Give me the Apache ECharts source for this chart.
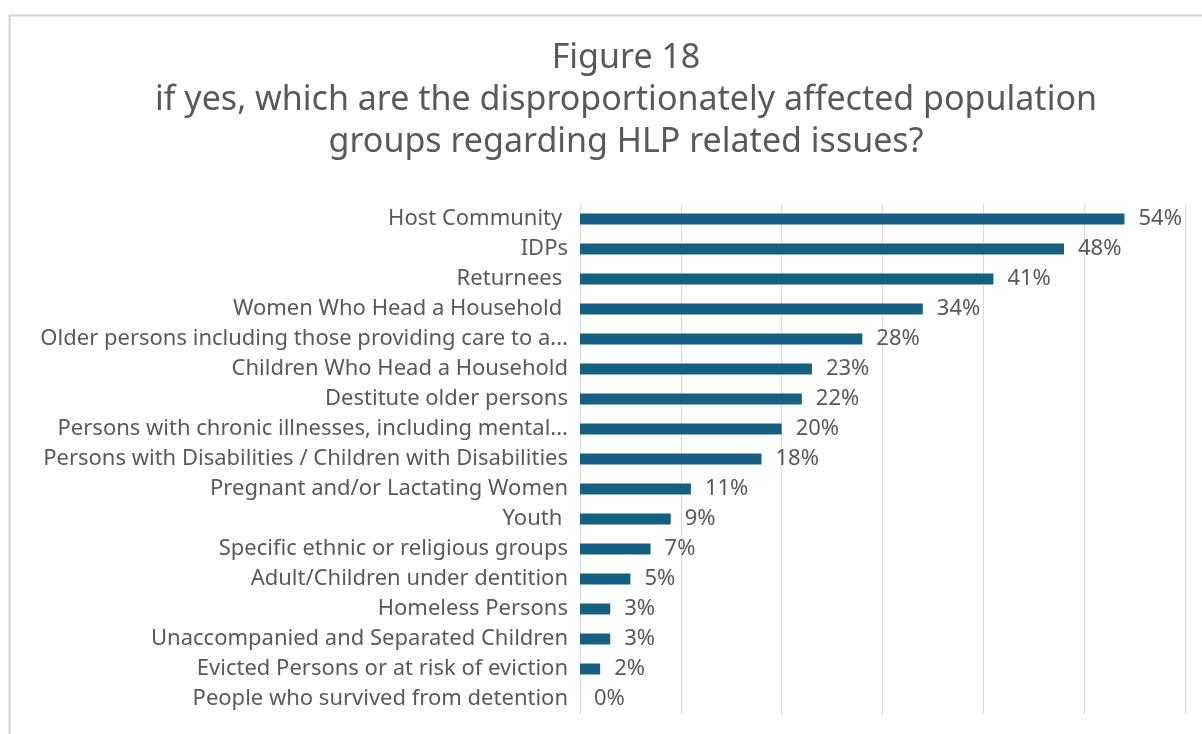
<!DOCTYPE html>
<html>
<head>
<meta charset="utf-8">
<script src="https://cdn.jsdelivr.net/npm/echarts@6/dist/echarts.min.js"></script>
<style>
  html, body { margin: 0; padding: 0; background: #ffffff; }
  #chart { width: 1202px; height: 734px; }
</style>
</head>
<body>
<div id="chart"></div>
<script>
// Population groups, listed top to bottom
const categories = [
  'Host Community ',
  'IDPs',
  'Returnees ',
  'Women Who Head a Household ',
  'Older persons including those providing care to a...',
  'Children Who Head a Household',
  'Destitute older persons',
  'Persons with chronic illnesses, including mental...',
  'Persons with Disabilities / Children with Disabilities',
  'Pregnant and/or Lactating Women',
  'Youth ',
  'Specific ethnic or religious groups',
  'Adult/Children under dentition',
  'Homeless Persons',
  'Unaccompanied and Separated Children',
  'Evicted Persons or at risk of eviction',
  'People who survived from detention'
];

// Share of respondents (%)
const shares = [54, 48, 41, 34, 28, 23, 22, 20, 18, 11, 9, 7, 5, 3, 3, 2, 0];

const titleLines = [
  'Figure 18',
  'if yes, which are the disproportionately affected population',
  'groups regarding HLP related issues?'
];

const FONT = '"Noto Sans", "Open Sans", sans-serif';
const TEXT = '#595959';

const chart = echarts.init(document.getElementById('chart'), null, { renderer: 'canvas' });

chart.setOption({
  backgroundColor: '#ffffff',
  animation: false,
  title: {
    text: titleLines.join('\n'),
    left: 621,
    top: 32,
    textAlign: 'center',
    textStyle: {
      fontFamily: FONT,
      fontSize: 34,
      fontWeight: 'normal',
      color: TEXT,
      lineHeight: 42
    }
  },
  graphic: [{
    type: 'rect',
    silent: true,
    shape: { x: 9.5, y: 15.5, width: 1260, height: 760 },
    style: { fill: 'none', stroke: '#d4d4d4', lineWidth: 2 }
  }],
  grid: {
    left: 580,
    right: 17,
    top: 204,
    bottom: 20,
    containLabel: false
  },
  xAxis: {
    type: 'value',
    min: 0,
    max: 60,
    interval: 10,
    axisLabel: { show: false },
    axisLine: { show: false },
    axisTick: { show: false },
    splitLine: { show: true, lineStyle: { color: '#d9d9d9', width: 1 } }
  },
  yAxis: {
    type: 'category',
    inverse: true,
    data: categories,
    axisLine: { show: false },
    axisTick: { show: false },
    axisLabel: {
      fontFamily: FONT,
      fontSize: 22,
      color: TEXT,
      margin: 12,
      padding: [0, 0, 8, 0]
    }
  },
  series: [{
    type: 'bar',
    data: shares,
    barWidth: 11,
    itemStyle: { color: '#156082' },
    label: {
      show: true,
      position: 'right',
      distance: 14,
      fontFamily: FONT,
      fontSize: 22,
      color: TEXT,
      formatter: p => p.value + '%'
    }
  }]
});
</script>
</body>
</html>
